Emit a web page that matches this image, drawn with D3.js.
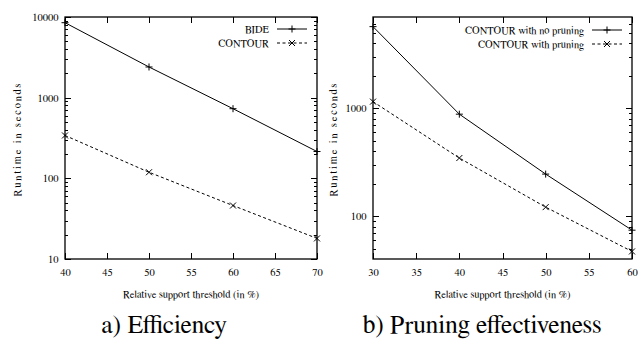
<!DOCTYPE html>
<html>
<head>
<meta charset="utf-8">
<script src="https://cdn.jsdelivr.net/npm/d3@7"></script>
<style>
  html, body { margin: 0; padding: 0; background: #fff; }
  svg { display: block; }
  svg text { font-family: FreeSerif, "DejaVu Serif", serif; fill: #000; }
</style>
</head>
<body>
<svg id="chart" width="644" height="341"></svg>
<script>
// ---- data ----
const thresholdsA = [40, 50, 60, 70];
const bideRuntime = [8500, 2400, 730, 215];
const contourRuntime = [340, 119, 46, 18];

const thresholdsB = [30, 40, 50, 60];
const noPruningRuntime = [5700, 880, 245, 74];
const withPruningRuntime = [1150, 345, 121, 47];

const xTicksA = [40, 45, 50, 55, 60, 65, 70];
const xTicksB = [30, 35, 40, 45, 50, 55, 60];
const yTicksA = [10, 100, 1000, 10000];
const yTicksB = [100, 1000];

const seriesNamesA = ["BIDE", "CONTOUR"];
const seriesNamesB = ["CONTOUR with no pruning", "CONTOUR with pruning"];
const captions = ["a) Efficiency", "b) Pruning effectiveness"];
const xTitle = "Relative support threshold (in %)";
const yTitle = "Runtime in seconds";

const FONT = "FreeSerif";
const svg = d3.select("#chart");

function drawPanel(cfg) {
  const { left, right, top, bottom, xDomain, yDomain, xTicks, yTicks, xs, series, names,
          legendX, legendY, yTitleX, caption, captionX } = cfg;
  const g = svg.append("g");
  const x = d3.scaleLinear().domain(xDomain).range([left, right]);
  const y = d3.scaleLog().domain(yDomain).range([bottom, top]);

  // minor ticks (log 2..9)
  const minor = y.ticks().filter(v => !yTicks.includes(v) && v > yDomain[0] && v < yDomain[1]);
  const ticksG = g.append("g").attr("stroke", "#000").attr("stroke-width", 1);
  minor.forEach(v => {
    const yy = Math.round(y(v)) + 0.5;
    ticksG.append("line").attr("x1", left).attr("x2", left + 3).attr("y1", yy).attr("y2", yy);
    ticksG.append("line").attr("x1", right).attr("x2", right - 3).attr("y1", yy).attr("y2", yy);
  });
  yTicks.forEach(v => {
    const yy = Math.round(y(v)) + 0.5;
    ticksG.append("line").attr("x1", left).attr("x2", left + 6).attr("y1", yy).attr("y2", yy);
    ticksG.append("line").attr("x1", right).attr("x2", right - 6).attr("y1", yy).attr("y2", yy);
  });
  xTicks.forEach(v => {
    const xx = Math.round(x(v)) + 0.5;
    ticksG.append("line").attr("x1", xx).attr("x2", xx).attr("y1", bottom).attr("y2", bottom - 6);
    ticksG.append("line").attr("x1", xx).attr("x2", xx).attr("y1", top).attr("y2", top + 6);
  });

  // frame
  g.append("rect").attr("x", left).attr("y", top).attr("width", right - left).attr("height", bottom - top)
    .attr("fill", "none").attr("stroke", "#000").attr("stroke-width", 1.3);

  // tick labels
  const yAxis = d3.axisLeft(y).tickValues(yTicks).tickSize(0).tickPadding(6.5).tickFormat(d3.format("d"));
  g.append("g").attr("transform", `translate(${left},0)`).call(yAxis)
    .attr("font-family", FONT).attr("font-size", 10.5)
    .call(s => s.select(".domain").remove());
  const xAxis = d3.axisBottom(x).tickValues(xTicks).tickSize(0).tickPadding(10).tickFormat(d3.format("d"));
  g.append("g").attr("transform", `translate(0,${bottom})`).call(xAxis)
    .attr("font-family", FONT).attr("font-size", 10.5)
    .call(s => s.select(".domain").remove());

  // titles
  g.append("text").attr("x", (left + right) / 2).attr("y", bottom + 38.5)
    .attr("text-anchor", "middle").style("font-size", "10.5px").text(xTitle);
  g.append("text").attr("transform", `translate(${yTitleX},140) rotate(-90)`)
    .attr("text-anchor", "middle").attr("dy", "0.35em").style("font-size", "10.5px")
    .attr("textLength", 113).attr("lengthAdjust", "spacing").text(yTitle);

  const line = d3.line().x((d, i) => x(xs[i])).y(d => y(d));
  const dashes = [null, "3,2.5"];
  series.forEach((vals, si) => {
    g.append("path").datum(vals).attr("d", line).attr("fill", "none")
      .attr("stroke", "#000").attr("stroke-width", 1)
      .attr("stroke-dasharray", dashes[si]);
    vals.forEach((v, i) => drawMarker(g, x(xs[i]), y(v), si));
  });

  // legend
  names.forEach((name, si) => {
    const ly = legendY + si * 14;
    g.append("text").attr("x", legendX).attr("y", ly).attr("dy", "0.35em")
      .attr("text-anchor", "end").style("font-size", "10.5px").text(name);
    g.append("line").attr("x1", legendX + 8).attr("x2", legendX + 38).attr("y1", ly).attr("y2", ly)
      .attr("stroke", "#000").attr("stroke-width", 1).attr("stroke-dasharray", dashes[si]);
    drawMarker(g, legendX + 23, ly, si);
  });

  // caption
  svg.append("text").attr("x", captionX).attr("y", 333).attr("text-anchor", "middle")
    .style("font-size", "25.5px").text(caption);
}

function drawMarker(g, cx, cy, type) {
  const s = 3.5;
  const p = type === 0
    ? `M${cx - s},${cy}H${cx + s}M${cx},${cy - s}V${cy + s}`
    : `M${cx - 3},${cy - 3}L${cx + 3},${cy + 3}M${cx - 3},${cy + 3}L${cx + 3},${cy - 3}`;
  g.append("path").attr("d", p).attr("stroke", "#000").attr("stroke-width", 1).attr("fill", "none");
}

drawPanel({
  left: 65, right: 317, top: 17, bottom: 259,
  xDomain: [40, 70], yDomain: [10, 10000], xTicks: xTicksA, yTicks: yTicksA,
  xs: thresholdsA, series: [bideRuntime, contourRuntime], names: seriesNamesA,
  legendX: 269, legendY: 29, yTitleX: 17, caption: captions[0], captionX: 164
});
drawPanel({
  left: 373, right: 632, top: 17, bottom: 259,
  xDomain: [30, 60], yDomain: [40, 7000], xTicks: xTicksB, yTicks: yTicksB,
  xs: thresholdsB, series: [noPruningRuntime, withPruningRuntime], names: seriesNamesB,
  legendX: 584, legendY: 30, yTitleX: 333, caption: captions[1], captionX: 482
});
</script>
</body>
</html>
